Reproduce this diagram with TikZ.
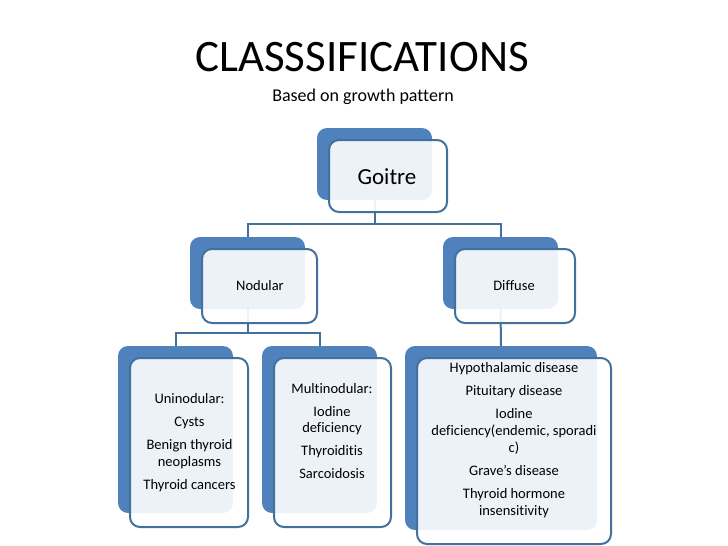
\documentclass[tikz,border=0pt]{standalone}
\usepackage{fontspec}
\setmainfont[Ligatures=NoCommon]{Carlito}
\definecolor{sblue}{HTML}{4F81BD}
\definecolor{lblue}{HTML}{41719C}
\begin{document}
\begin{tikzpicture}[x=1pt,y=-1pt,
  backbox/.style={fill=sblue, draw=none, rounded corners=10pt, inner sep=0pt},
  frontbox/.style={fill=white, fill opacity=0.9, draw=lblue, draw opacity=1, line width=2pt, rounded corners=10pt, inner sep=0pt},
  conn/.style={draw=lblue, line width=2pt},
  lbl/.style={align=center, inner sep=0pt, text=black},
  leaf/.style={lbl, font=\fontsize{14.5}{16.8}\selectfont}]
\useasboundingbox (0,0) rectangle (728,546);
% titles
\node[lbl, font=\fontsize{45}{52}\selectfont] (title) at (362,57) {CLASSSIFICATIONS};
\node[lbl, font=\fontsize{18}{21}\selectfont] (sub) at (363,97) {Based on growth pattern};
% back boxes
\node[backbox, minimum width=115pt, minimum height=72pt] (gb) at (374.5,164) {};
\node[backbox, minimum width=115pt, minimum height=72pt] (nb) at (247.5,273) {};
\node[backbox, minimum width=115pt, minimum height=72pt] (db) at (500.5,273) {};
\node[backbox, minimum width=115pt, minimum height=167pt] (ub) at (175.5,429.5) {};
\node[backbox, minimum width=115pt, minimum height=167pt] (mb) at (319.5,429.5) {};
\node[backbox, minimum width=192pt, minimum height=184pt] (cb) at (501,438) {};
% connectors
\draw[conn] (gb.south) -- ++(0,24) coordinate (j1);
\draw[conn] (j1) -| (nb.north);
\draw[conn] (j1) -| (db.north);
\draw[conn] (nb.south) -- ++(0,24) coordinate (j2);
\draw[conn] (j2) -| (ub.north);
\draw[conn] (j2) -| (mb.north);
\draw[conn] (db.south) -- (cb.north);
% front boxes
\node[frontbox, minimum width=118pt, minimum height=72pt] (gf) at (388,176) {};
\node[frontbox, minimum width=115pt, minimum height=74pt] (nf) at (259.5,286) {};
\node[frontbox, minimum width=120pt, minimum height=74pt] (df) at (515,286) {};
\node[frontbox, minimum width=118pt, minimum height=169pt] (uf) at (189,442.5) {};
\node[frontbox, minimum width=117pt, minimum height=169pt] (mf) at (332.5,442.5) {};
\node[frontbox, minimum width=194pt, minimum height=186pt] (cf) at (514,451) {};
% texts
\node[lbl, font=\fontsize{23}{27}\selectfont] (gt) at (387,177) {Goitre};
\node[lbl, font=\fontsize{14.5}{17}\selectfont] (nt) at (260,286) {Nodular};
\node[lbl, font=\fontsize{14.5}{17}\selectfont] (dt) at (514,286) {Diffuse};
\node[leaf] (ut) at (189.5,443) {Uninodular:\\[6.2pt] Cysts\\[6.2pt] Benign thyroid\\ neoplasms\\[6.2pt] Thyroid cancers};
\node[leaf] (mt) at (332,431) {Multinodular:\\[6.2pt] Iodine\\ deficiency\\[6.2pt] Thyroiditis\\[6.2pt] Sarcoidosis};
\node[leaf] (ct) at (514,440) {Hypothalamic disease\\[6.5pt] Pituitary disease\\[6.5pt] Iodine\\ deficiency(endemic, sporadi\\ c)\\[6.5pt] Grave’s disease\\[6.5pt] Thyroid hormone\\ insensitivity};
\end{tikzpicture}
\end{document}
